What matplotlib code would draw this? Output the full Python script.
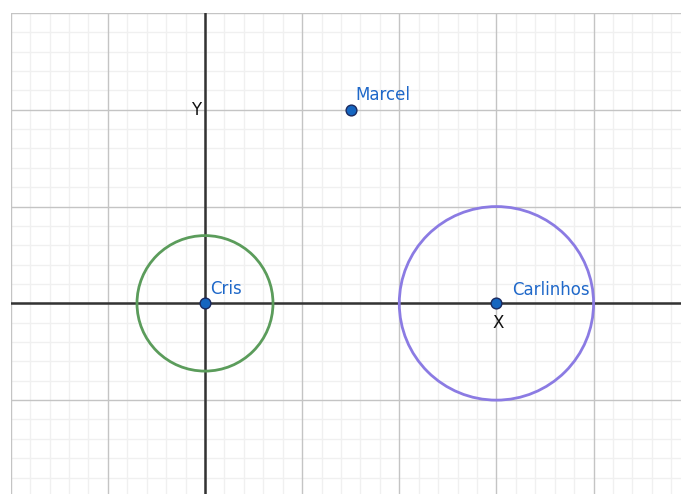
import matplotlib.pyplot as plt
from matplotlib.patches import Circle
import numpy as np

# Pontos
nomes = ['Cris', 'Marcel', 'Carlinhos']
px = [0, 1.5, 3]
py = [0, 2, 0]
# deslocamento dos rótulos em pixels
lbl_dx = [5, 5, 16]
lbl_dy = [5, 6, 4]

# Círculos: centro e raio
circ_cx = [0, 3]
circ_cy = [0, 0]
circ_r = [0.7, 1.0]
circ_cor = ['#5b9c5b', '#8b7be3']

xmin, xmax = -2, 4.9
ymin, ymax = -1.97, 3

fig = plt.figure(figsize=(6.81, 4.94), dpi=100)
ax = fig.add_axes([10.7 / 681, 0, 1 - 10.7 / 681, (494 - 13) / 494])
ax.set_xlim(xmin, xmax)
ax.set_ylim(ymin, ymax)

# grade
for v in np.arange(-2, 5.01, 0.2):
    if abs(v - round(v)) > 1e-6:
        ax.axvline(v, color='#f0f0f0', lw=1, zorder=0)
for v in np.arange(-2, 3.01, 0.2):
    if abs(v - round(v)) > 1e-6:
        ax.axhline(v, color='#f0f0f0', lw=1, zorder=0)
for v in range(-2, 6):
    ax.axvline(v, color='#c4c4c4', lw=1, zorder=1)
for v in range(-2, 4):
    ax.axhline(v, color='#c4c4c4', lw=1, zorder=1)

# eixos
ax.axhline(0, color='#333333', lw=1.8, zorder=2)
ax.axvline(0, color='#333333', lw=1.8, zorder=2)

for cx, cy, r, c in zip(circ_cx, circ_cy, circ_r, circ_cor):
    ax.add_patch(Circle((cx, cy), r, fill=False, ec=c, lw=2, zorder=3))

ax.scatter(px, py, s=60, c='#1565c0', edgecolors='#1a2a60', linewidths=1, zorder=5)
for n, x, y, dx, dy in zip(nomes, px, py, lbl_dx, lbl_dy):
    ax.annotate(n, (x, y), xytext=(dx * 0.72, dy * 0.72), textcoords='offset points',
                color='#1f68c9', fontsize=12, ha='left', va='bottom', zorder=6)

ax.text(-0.04, 2, 'Y', fontsize=12, ha='right', va='center', color='#111111')
ax.text(3.02, -0.2, 'X', fontsize=12, ha='center', va='center', color='#111111')

for s in ax.spines.values():
    s.set_visible(False)
ax.set_xticks([])
ax.set_yticks([])

fig.savefig('out.png', dpi=100)
